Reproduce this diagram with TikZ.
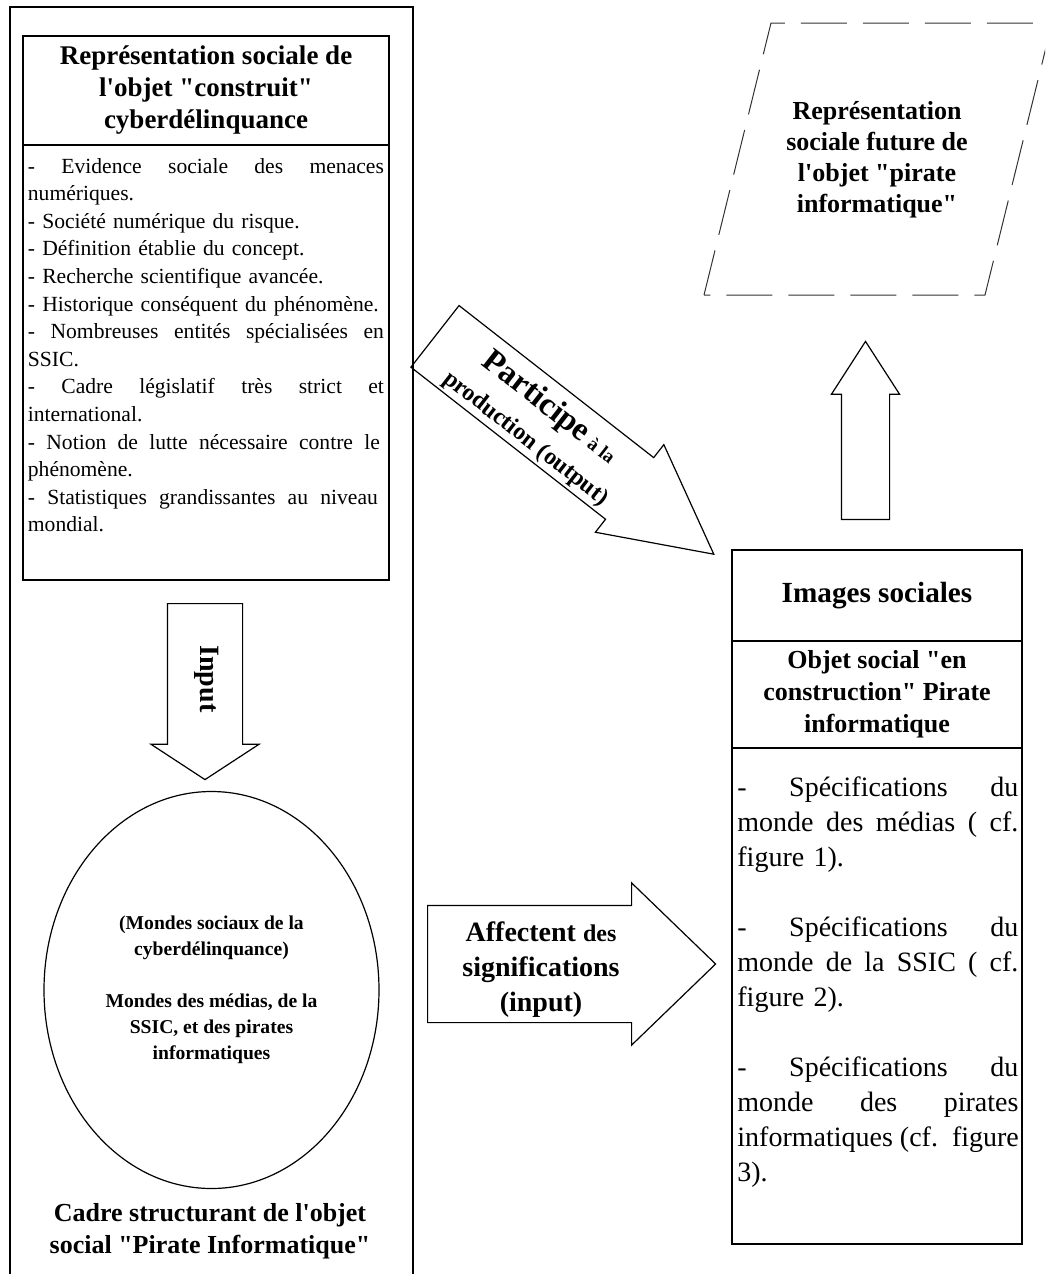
\documentclass[tikz,border=0pt]{standalone}
\usepackage{fontspec}
\setmainfont{Liberation Serif}[Ligatures=TeXOff]
\usepackage {tikz}
\usetikzlibrary {positioning}
\usetikzlibrary{shapes.geometric}
\usetikzlibrary{shapes.arrows}
\usetikzlibrary{calc}
\newcommand{\fsz}[2]{\fontsize{#1}{#2}\selectfont}
\newcommand{\jline}[2][178pt]{\leavevmode\hbox to #1{\spaceskip=0.25em plus 1fil\relax #2}}
\tikzset{
    frame/.style = {line width=1.4pt},
    box/.style = {rectangle,draw,line width=0.6pt,inner sep=0pt,outer sep=0pt},
    boldtext/.style = {align=center,font=\fsz{13}{16}\bfseries},
    listtext/.style = {align=left,inner sep=0pt},
    blockarrow/.style = {single arrow,draw,line width=0.6pt,inner xsep=0pt,single arrow head indent=0pt},
    futurebox/.style = {draw=black!80,line width=0.5pt,dash pattern=on 23pt off 8pt}}
\begin{document}
\begin{tikzpicture}[x=0.5pt,y=-0.5pt]
    \useasboundingbox (0,0) rectangle (1045,1274);
    \clip (0,0) rectangle (1045,1274);
    \draw[frame] (10,1290) -- (10,7) -- (413,7) -- (413,1290);
    \node[box,boldtext,font=\fsz{13.5}{16}\bfseries,minimum width=183pt,minimum height=54.5pt] (rsTitle) at (206,90.5) {Représentation sociale de\\l'objet "construit"\\cyberdélinquance};
    \node[box,minimum width=183pt,minimum height=217.5pt,below=0pt of rsTitle] (rsBody) {};
    \node[listtext,text width=178pt,anchor=base west,font=\fsz{10.8}{13.8}] (rsList) at (27.5,173) {\jline{- Evidence sociale des menaces}\\numériques.\\- Société numérique du risque.\\- Définition établie du concept.\\- Recherche scientifique avancée.\\- Historique conséquent du phénomène.\\\jline{- Nombreuses entités spécialisées en}\\SSIC.\\\jline{- Cadre législatif très strict et}\\international.\\\jline[176pt]{- Notion de lutte nécessaire contre le}\\phénomène.\\\jline[175pt]{- Statistiques grandissantes au niveau}\\mondial.};
    \node[blockarrow,inner ysep=18.5pt,minimum height=88pt,minimum width=53.5pt,single arrow head extend=8.25pt,single arrow tip angle=113.6,rotate=-90,anchor=tail] (inputArrow) at (205,603) {};
    \node[rotate=-90,font=\fsz{14}{16}\bfseries] (inputText) at (207,679) {Input};
    \node[ellipse,draw,line width=0.6pt,minimum width=167.5pt,minimum height=198.5pt,inner sep=0pt,align=center,font=\fsz{9.8}{13}\bfseries] (mondes) at (211.5,990) {(Mondes sociaux de la\\cyberdélinquance)\\[13pt]Mondes des médias, de la\\SSIC, et des pirates\\informatiques};
    \node[boldtext] (cadre) at (210,1231) {Cadre structurant de l'objet\\social "Pirate Informatique"};
    \node[blockarrow,inner ysep=19.25pt,minimum height=176.9pt,minimum width=55pt,single arrow head extend=8.25pt,single arrow tip angle=55,rotate=-38,anchor=tail] (partArrow) at (434.5,336) {};
    \node[rotate=-38,align=center,font=\fsz{12}{18.5}\bfseries] (partText) at (539,422) {{\fsz{16.4}{18.5}Participe} {\fsz{9.5}{18.5}à la}\\production (output)};
    \node[blockarrow,inner ysep=29pt,minimum height=144pt,minimum width=80.5pt,single arrow head extend=11.25pt,single arrow tip angle=88,anchor=tail] (affArrow) at (427,964) {};
    \node[align=center,font=\fsz{14}{17.5}\bfseries] (affText) at (541,970) {Affectent {\fsz{12}{17.5}des}\\significations\\(input)};
    \draw[futurebox] (704,295) -- (771,23) -- (1052,23) -- (985,295) -- cycle;
    \node[boldtext,font=\fsz{13}{15.5}\bfseries] (futur) at (877,160) {Représentation\\sociale future de\\l'objet "pirate\\informatique"};
    \node[blockarrow,inner ysep=11.75pt,minimum height=89pt,minimum width=33.5pt,single arrow head extend=5pt,single arrow tip angle=65.6,rotate=90,anchor=tail] (upArrow) at (865.5,520) {};
    \node[box,minimum width=145pt,minimum height=45.5pt,font=\fsz{14.6}{18}\bfseries] (images) at (877,595.5) {Images sociales};
    \node[box,boldtext,minimum width=145pt,minimum height=53.5pt,below=0pt of images] (objet) {Objet social "en\\construction" Pirate\\informatique};
    \node[box,minimum width=145pt,minimum height=248pt,below=0pt of objet] (specs) {};
    \node[listtext,text width=140.5pt,anchor=base west,font=\fsz{14}{17.5}] (specsList) at (737,796) {\jline[140.5pt]{- Spécifications du}\\\jline[140.5pt]{monde des médias ( cf.}\\figure 1).\\[17.5pt]\jline[140.5pt]{- Spécifications du}\\\jline[140.5pt]{monde de la SSIC ( cf.}\\figure 2).\\[17.5pt]\jline[140.5pt]{- Spécifications du}\\\jline[140.5pt]{monde des pirates}\\\jline[140.5pt]{informatiques (cf. figure}\\3).};
\end{tikzpicture}
\end{document}
